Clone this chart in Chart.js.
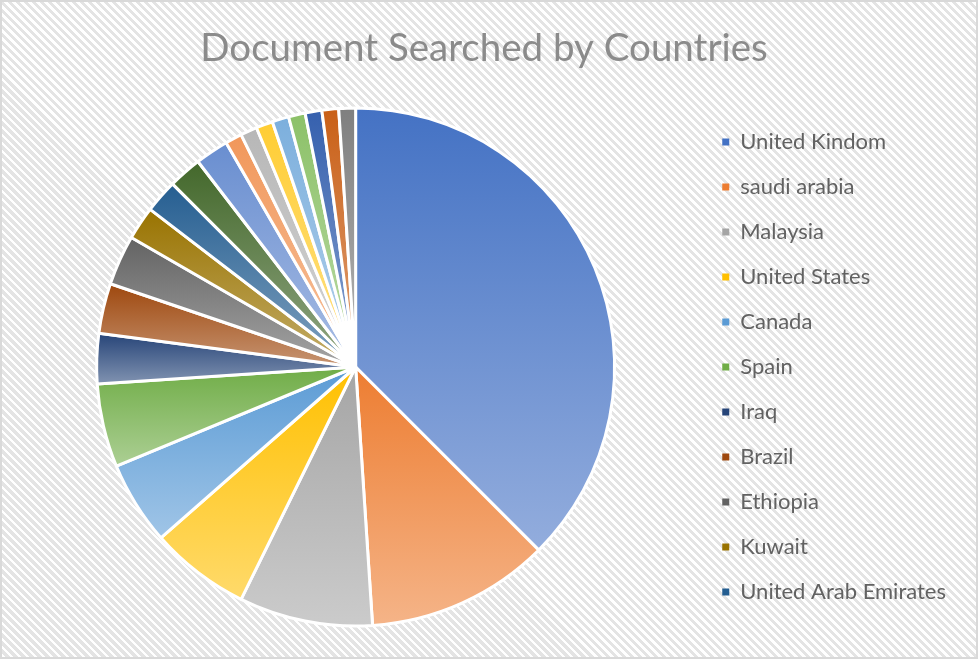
<!DOCTYPE html>
<html lang="en">
<head>
    <meta charset="UTF-8">
    <title>Document Searched by Countries</title>
    <script src="https://cdn.jsdelivr.net/npm/chart.js"></script>
    <style>
        html, body { margin: 0; padding: 0; background: #fff; }
        #wrap {
            width: 978px; height: 659px; box-sizing: border-box;
            border: 2px solid #d9d9d9;
            background: repeating-linear-gradient(45deg, #ffffff 0px, #ffffff 2.6px, #e4e4e4 2.6px, #e4e4e4 5.66px);
        }
        #wrap canvas { display: block; }
    </style>
</head>
<body>
<div id="wrap"><canvas id="myChart" width="974" height="655"></canvas></div>
<script>
    // values (document counts per country)
    const countries = ['United Kindom', 'saudi arabia', 'Malaysia', 'United States', 'Canada', 'Spain',
        'Iraq', 'Brazil', 'Ethiopia', 'Kuwait', 'United Arab Emirates',
        'Country 12', 'Country 13', 'Country 14', 'Country 15', 'Country 16',
        'Country 17', 'Country 18', 'Country 19', 'Country 20', 'Country 21']
    const documents = [36, 11, 8, 6, 5, 5, 3, 3, 3, 2, 2, 2, 2, 1, 1, 1, 1, 1, 1, 1, 1]
    const sliceColors = ['#4472C4', '#ED7D31', '#A5A5A5', '#FFC000', '#5B9BD5', '#70AD47',
        '#264478', '#9E480E', '#636363', '#997300', '#255E91', '#43682B',
        '#698ED0', '#F1975A', '#B7B7B7', '#FFCD33', '#7CAFDD', '#8CC168',
        '#3560AE', '#C95F16', '#7F7F7F']
    const legendCount = 11 // the legend only lists the first 11 countries

    function tint(hex, amt) {
        const n = parseInt(hex.slice(1), 16)
        const r = (n >> 16) & 255, g = (n >> 8) & 255, b = n & 255
        const m = c => Math.round(c + (255 - c) * amt)
        return 'rgb(' + m(r) + ',' + m(g) + ',' + m(b) + ')'
    }

    // vertical gradient on each slice, darker on top, lighter at the bottom
    const sliceShading = {
        id: 'sliceShading',
        beforeDatasetsDraw(chart) {
            const ctx = chart.ctx
            chart.getDatasetMeta(0).data.forEach((arc, i) => {
                const p = arc.getProps(['x', 'y', 'startAngle', 'endAngle', 'outerRadius'], true)
                const ys = [p.y, p.y + p.outerRadius * Math.sin(p.startAngle), p.y + p.outerRadius * Math.sin(p.endAngle)]
                for (const a of [-Math.PI / 2, Math.PI / 2, 3 * Math.PI / 2]) {
                    if (a > p.startAngle && a < p.endAngle) ys.push(p.y + p.outerRadius * Math.sin(a))
                }
                const top = Math.min(...ys), bottom = Math.max(...ys)
                const g = ctx.createLinearGradient(0, top, 0, bottom + 0.01)
                g.addColorStop(0, sliceColors[i])
                g.addColorStop(1, tint(sliceColors[i], 0.42))
                arc.options.backgroundColor = g
            })
        }
    }

    const ctx = document.getElementById('myChart')
    const defaultLabels = Chart.overrides.pie.plugins.legend.labels.generateLabels

    new Chart(ctx, {
        type: 'pie',
        data: {
            labels: countries,
            datasets: [{
                data: documents,
                backgroundColor: sliceColors,
                borderColor: '#ffffff',
                borderWidth: 3
            }]
        },
        options: {
            responsive: false,
            animation: false,
            layout: { padding: { left: 10, right: 20, top: 0, bottom: 29.5 } },
            plugins: {
                title: {
                    display: true,
                    text: 'Document Searched by Countries',
                    color: '#8b8b8b',
                    font: { family: 'Lato', size: 38.5, weight: 'normal' },
                    padding: { top: 23, bottom: 35.3 }
                },
                legend: {
                    position: 'right',
                    fullSize: false,
                    labels: {
                        color: '#626262',
                        font: { family: 'Lato', size: 22 },
                        boxWidth: 7,
                        boxHeight: 7,
                        padding: 23,
                        filter: item => item.index < legendCount,
                        generateLabels: chart => defaultLabels(chart).map(l => Object.assign(l, { lineWidth: 0 }))
                    }
                },
                tooltip: { enabled: false }
            }
        },
        plugins: [sliceShading]
    })
</script>
</body>
</html>
